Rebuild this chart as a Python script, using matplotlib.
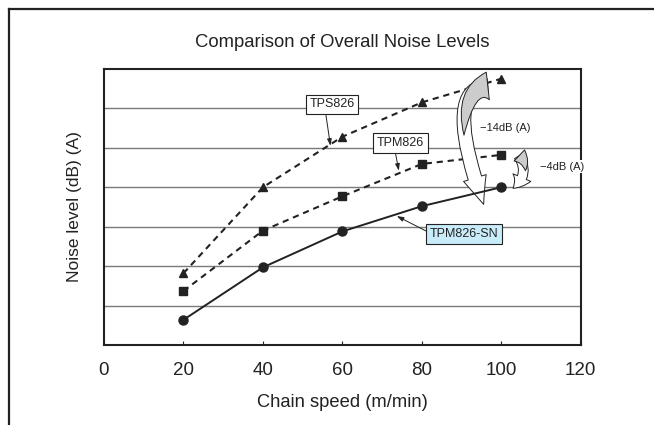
import numpy as np
import matplotlib
matplotlib.use("Agg")
import matplotlib.pyplot as plt
from matplotlib.patches import FancyArrowPatch
from matplotlib.lines import Line2D

plt.rcParams['font.family'] = ['Liberation Sans', 'DejaVu Sans']

# chain speed (m/min) and relative noise level (no scale given on the chart)
speed = [20, 40, 60, 80, 100]
tps826 = [1.82, 4.00, 5.28, 6.15, 6.75]
tpm826 = [1.37, 2.90, 3.77, 4.59, 4.82]
tpm826_sn = [0.64, 1.97, 2.88, 3.52, 4.00]
xticks = [0, 20, 40, 60, 80, 100, 120]
grid_levels = [1, 2, 3, 4, 5, 6]

ink = '#222222'

fig = plt.figure(figsize=[6.54, 4.25], dpi=100)
ax = fig.add_axes([0.159, 0.188, 0.729, 0.650])

# outer frame (top and left edges only are visible)
fig.add_artist(Line2D([0.013, 1.0], [0.979, 0.979], color=ink, lw=1.6))
fig.add_artist(Line2D([0.013, 0.013], [0.0, 0.979], color=ink, lw=1.6))

for g in grid_levels:
    ax.axhline(g, color='#7a7a7a', lw=1.0, zorder=1)

ax.plot(speed, tps826, color=ink, lw=1.5, ls=(0, (3, 2.3)), marker='^', ms=6, zorder=2)
ax.plot(speed, tpm826, color=ink, lw=1.5, ls=(0, (3, 2.3)), marker='s', ms=5.5, zorder=2)
ax.plot(speed, tpm826_sn, color=ink, lw=1.4, marker='o', ms=6.5, zorder=4)

ax.set_xlim(0, 120)
ax.set_ylim(0, 7)
ax.set_xticks(xticks)
ax.set_yticks([])
ax.tick_params(axis='x', direction='in', length=3, width=0.8, pad=12, labelsize=13.5, colors=ink)
for s in ax.spines.values():
    s.set_color(ink)
    s.set_linewidth(1.5)
    s.set_zorder(5)

ax.set_title("Comparison of Overall Noise Levels", fontsize=13.3, color=ink, pad=16)
ax.set_xlabel("Chain speed (m/min)", fontsize=13.2, color=ink, labelpad=11)
ax.set_ylabel("Noise level (dB) (A)", fontsize=12.5, color=ink, labelpad=16)

# series labels with pointer arrows
arrow = dict(arrowstyle='-|>,head_length=0.45,head_width=0.15', lw=0.7, color=ink, shrinkA=0, shrinkB=0)
box = dict(boxstyle='square,pad=0.3', fc='white', ec=ink, lw=0.8)
ax.annotate("TPS826", xy=(57.0, 5.05), xytext=(57.4, 6.10), fontsize=9, color=ink,
            ha='center', va='center', bbox=box, zorder=6,
            arrowprops=dict(arrow, relpos=(0.35, 0)))
ax.annotate("TPM826", xy=(74.2, 4.42), xytext=(74.6, 5.12), fontsize=9, color=ink,
            ha='center', va='center', bbox=box, zorder=6,
            arrowprops=dict(arrow, relpos=(0.38, 0)))
ax.annotate("TPM826-SN", xy=(73.7, 3.27), xytext=(90.7, 2.81), fontsize=9, color=ink,
            ha='center', va='center', zorder=6,
            bbox=dict(box, fc='#c9ecfa'),
            arrowprops=dict(arrow, relpos=(0, 0.6)))

# curved reduction arrows
big = FancyArrowPatch((97.3, tps826[-1] - 0.18), (95.8, tpm826_sn[-1] - 0.5),
                      connectionstyle='angle3,angleA=0,angleB=110',
                      arrowstyle='simple,head_length=2.0,head_width=1.7,tail_width=1.0',
                      mutation_scale=10, fc='white', ec=ink, lw=0.7, zorder=3)
ax.add_patch(big)
big_shade = FancyArrowPatch((97.3, tps826[-1] - 0.18), (90.6, 5.25),
                            connectionstyle='angle3,angleA=0,angleB=90',
                            arrowstyle='wedge,tail_width=2.0,shrink_factor=0.5',
                            mutation_scale=10, fc='#cccccc', ec=ink, lw=0.7, zorder=3)
ax.add_patch(big_shade)

small = FancyArrowPatch((104.0, tpm826[-1] + 0.03), (102.4, tpm826_sn[-1] - 0.07),
                        connectionstyle='arc3,rad=-0.5',
                        arrowstyle='simple,head_length=1.0,head_width=1.4,tail_width=0.7',
                        mutation_scale=10, fc='white', ec=ink, lw=0.7, zorder=3)
ax.add_patch(small)
small_shade = FancyArrowPatch((104.0, tpm826[-1] + 0.03), (106.0, 4.35),
                              connectionstyle='arc3,rad=-0.3',
                              arrowstyle='wedge,tail_width=1.1,shrink_factor=0.5',
                              mutation_scale=10, fc='#cccccc', ec=ink, lw=0.7, zorder=3)
ax.add_patch(small_shade)

ax.text(94.6, 5.50, "\u221214dB (A)", fontsize=8, color=ink, ha='left', va='center', zorder=6)
ax.text(109.8, 4.52, "\u22124dB (A)", fontsize=8, color=ink, ha='left', va='center', zorder=6,
        clip_on=False, bbox=dict(boxstyle='square,pad=0.15', fc='white', ec='none'))

fig.savefig("out.png", dpi=100)
